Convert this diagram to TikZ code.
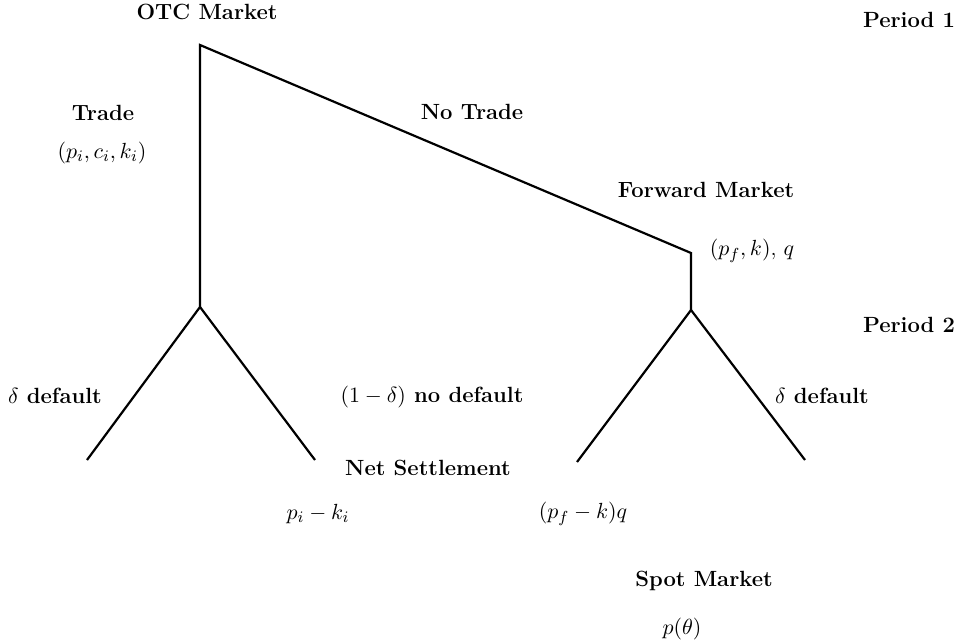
\documentclass[tikz,border=0pt]{standalone}
\begin{document}
\begin{tikzpicture}[x=0.5pt,y=-0.5pt,
  br/.style={line width=1.1pt},
  lbl/.style={font=\fontsize{11}{13.5}\selectfont\bfseries, inner sep=0pt},
  mth/.style={font=\fontsize{11}{13.5}\selectfont, inner sep=0pt}]
\useasboundingbox (0,0) rectangle (961,640);
% tree points
\coordinate (root) at (200,45);
\coordinate (tnode) at (200,307);
\coordinate (fwd) at (691,253);
\coordinate (fnode) at (691,310);
\coordinate (ll) at (87,460);
\coordinate (lr) at (315,460);
\coordinate (rl) at (577,462);
\coordinate (rr) at (805,460);
\draw[br] (tnode) -- (root) -- (fwd) -- (fnode);
\draw[br] (ll) -- (tnode) -- (lr);
\draw[br] (rl) -- (fnode) -- (rr);
% labels
\node[lbl] (otc) at (207,12) {OTC Market};
\node[lbl] (p1) at (909,20) {Period 1};
\node[lbl] (trade) at (103,113) {Trade};
\node[mth] (tv) at (102,153) {$(p_i,c_i,k_i)$};
\node[lbl] (nt) at (472,112) {No Trade};
\node[lbl] (fm) at (706,190) {Forward Market};
\node[mth] (fv) at (752,251) {$(p_f,k)$, $q$};
\node[lbl] (p2) at (909,325) {Period 2};
\node[lbl] (d1) at (55,396) {$\delta$ default};
\node[lbl] (nd) at (432,397) {$(1-\delta)$ no default};
\node[lbl] (d2) at (822,396) {$\delta$ default};
\node[lbl] (ns) at (428,468) {Net Settlement};
\node[mth] (v1) at (318,514) {$p_i-k_i$};
\node[mth] (v2) at (583,514) {$(p_f-k)q$};
\node[lbl] (sm) at (704,581) {Spot Market};
\node[mth] (v3) at (682,629) {$p(\theta)$};
\end{tikzpicture}
\end{document}
